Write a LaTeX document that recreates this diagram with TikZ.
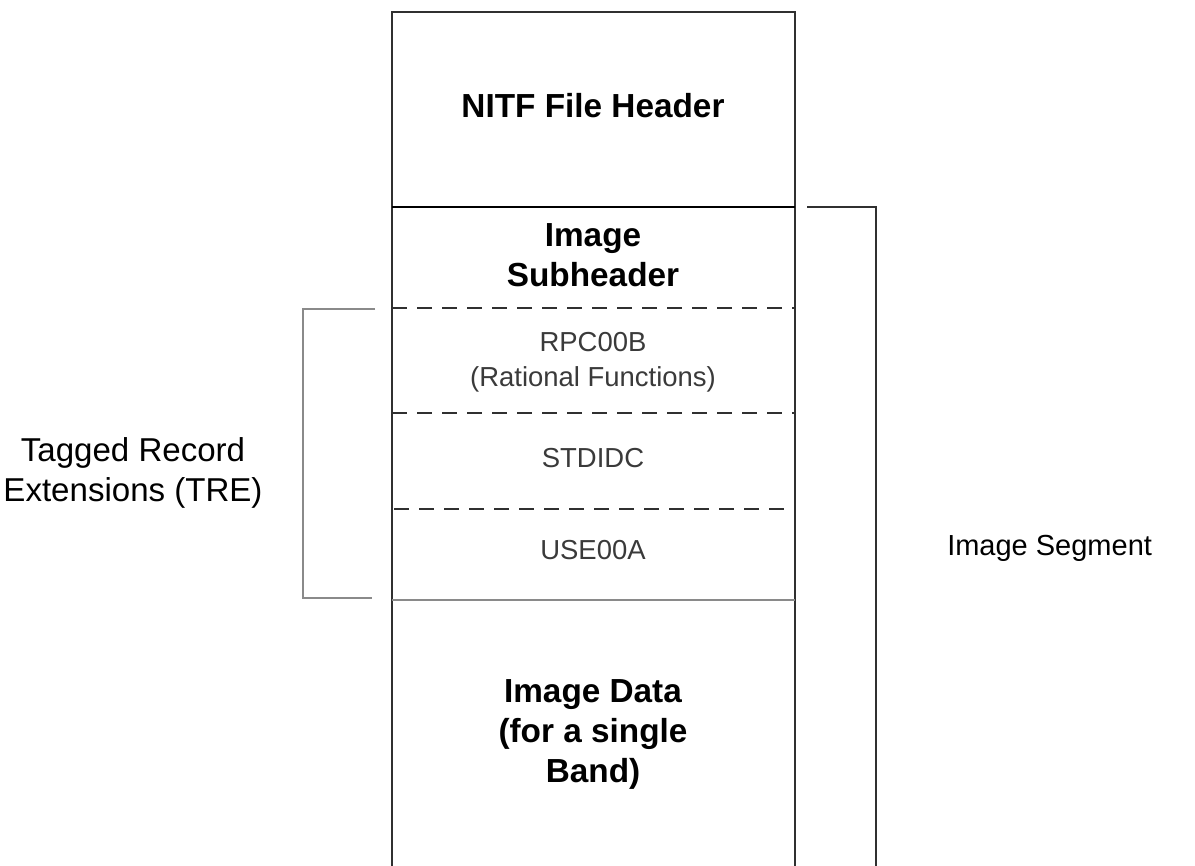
\documentclass[tikz,border=0pt]{standalone}
\usepackage{fontspec}
\setmainfont{Liberation Sans}
\definecolor{linedark}{HTML}{303030}
\definecolor{linegray}{HTML}{8A8A8A}
\definecolor{tretext}{HTML}{3A3A3A}
\begin{document}
\begin{tikzpicture}[x=0.75pt,y=-0.75pt,
  boldlbl/.style={align=center,inner sep=0pt,font=\bfseries\fontsize{25}{30}\selectfont},
  trelbl/.style={align=center,inner sep=0pt,text=tretext,font=\fontsize{20.6}{26.25}\selectfont},
  sidelbl/.style={align=center,inner sep=0pt,font=\fontsize{24.8}{30}\selectfont},
  boxline/.style={draw=linedark,line width=1.5pt},
  sepline/.style={draw=black,line width=2.2pt},
  dashline/.style={draw=linedark,line width=1.2pt,dash pattern=on 11.25pt off 7.5pt},
  grayline/.style={draw=linegray,line width=1.3pt},
  bracketgray/.style={draw=linegray,line width=1.5pt},
  bracketdark/.style={draw=linedark,line width=1.5pt}]
\useasboundingbox (0,0) rectangle (1195,866);
\fill[white] (0,0) rectangle (1195,866);
% main column
\coordinate (tl) at (392,12);
\coordinate (tr) at (795,12);
\coordinate (bl) at (392,870);
\coordinate (br) at (795,870);
\draw[boxline] (bl) -- (tl) -- (tr) -- (br);
\draw[sepline] (392,207) -- (795,207);
\draw[dashline] (392,308) -- (795,308);
\draw[dashline] (392,413) -- (795,413);
\draw[dashline] (394,509) -- (795,509);
\draw[grayline] (392,600) -- (795,600);
% brackets
\draw[bracketgray] (375,309) -- (303,309) -- (303,598) -- (372,598);
\draw[bracketdark] (807,207) -- (876,207) -- (876,870);
% texts
\node[boldlbl,anchor=base] (hdr) at (593,118) {NITF File Header};
\node[boldlbl] (sub) at (593,255) {Image\\Subheader};
\node[trelbl] (rpc) at (593,362) {RPC00B\\(Rational Functions)};
\node[trelbl,anchor=base] (std) at (593,467) {STDIDC};
\node[trelbl,anchor=base] (use) at (593,559) {USE00A};
\node[boldlbl] (data) at (593,734) {Image Data\\(for a single\\Band)};
\node[sidelbl] (tre) at (133,473) {Tagged Record\\Extensions (TRE)};
\node[sidelbl,anchor=base west,font=\fontsize{21.75}{26}\selectfont] (seg) at (947,555) {Image Segment};
\end{tikzpicture}
\end{document}
